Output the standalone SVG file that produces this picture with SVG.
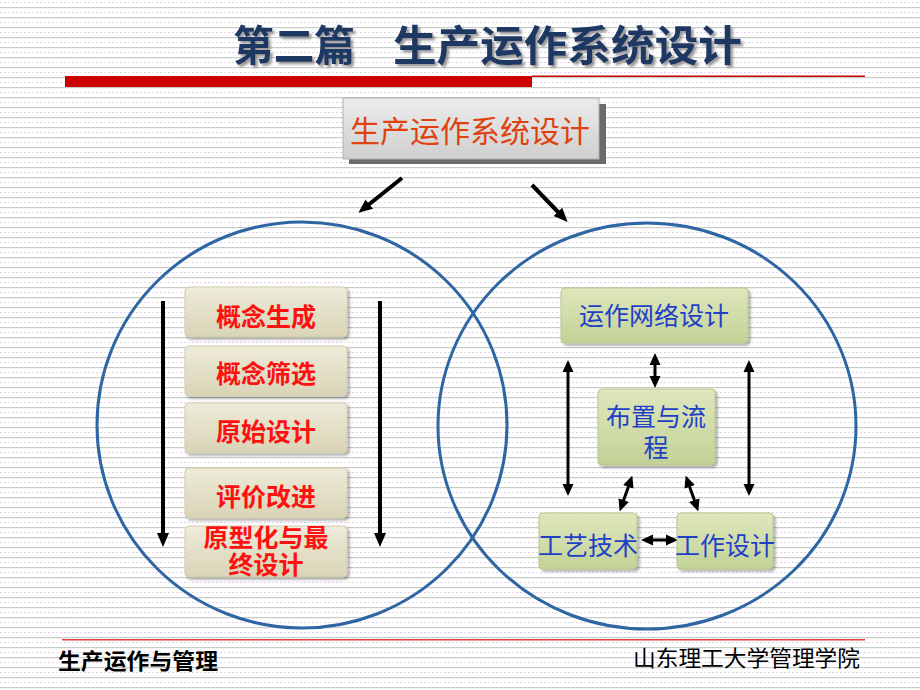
<svg xmlns="http://www.w3.org/2000/svg" width="920" height="690" viewBox="0 0 920 690">
<defs>
<pattern id="stripes" x="0" y="0" width="12" height="10" patternUnits="userSpaceOnUse">
<rect width="12" height="10" fill="#ffffff"/>
<rect x="0" y="7" width="12" height="1.2" fill="#c7ccc7"/>
<rect x="0" y="2" width="2" height="1" fill="#f2c9e4"/>
<rect x="4" y="2" width="2" height="1" fill="#c9d8f2"/>
<rect x="8" y="2" width="2" height="1" fill="#f4d6e8"/>
</pattern>
<linearGradient id="gBeige" x1="0" y1="0" x2="0" y2="1">
<stop offset="0" stop-color="#eeebd9"/>
<stop offset="1" stop-color="#d9d4b6"/>
</linearGradient>
<linearGradient id="gGreen" x1="0" y1="0" x2="0" y2="1">
<stop offset="0" stop-color="#dfe7bd"/>
<stop offset="1" stop-color="#c2d296"/>
</linearGradient>
<linearGradient id="gGray" x1="0" y1="0" x2="0" y2="1">
<stop offset="0" stop-color="#ececec"/>
<stop offset="1" stop-color="#cfcfcf"/>
</linearGradient>
<filter id="soft" x="-10%" y="-10%" width="125%" height="130%">
<feDropShadow dx="2" dy="2" stdDeviation="1.5" flood-color="#000" flood-opacity="0.35"/>
</filter>
<filter id="tshadow" x="-5%" y="-10%" width="110%" height="130%">
<feDropShadow dx="2.5" dy="2.5" stdDeviation="1" flood-color="#808080" flood-opacity="0.8"/>
</filter>
<marker id="ah" markerUnits="userSpaceOnUse" viewBox="0 0 14 14" markerWidth="14" markerHeight="14" refX="3" refY="7" orient="auto-start-reverse">
<path d="M0,1 L14,7 L0,13 z" fill="#000"/>
</marker>
<marker id="ah2" markerUnits="userSpaceOnUse" viewBox="0 0 12 12" markerWidth="12" markerHeight="12" refX="2" refY="6" orient="auto-start-reverse">
<path d="M0,0.5 L12,6 L0,11.5 z" fill="#000"/>
</marker>
<style>
.cjk{font-family:"Liberation Sans","Noto Sans CJK SC","Noto Sans CJK JP",sans-serif;}
.title{font-size:42px;font-weight:bold;fill:#1f3864;}
.red{font-size:25px;font-weight:bold;fill:#ff1010;text-anchor:middle;}
.blue{font-size:25px;fill:#1f3fc8;text-anchor:middle;}
.bbox{fill:url(#gBeige);stroke:#d2cdb0;stroke-width:1;}
.gbox{fill:url(#gGreen);stroke:#b8c78c;stroke-width:1;}
.circ{fill:none;stroke:#2e65a3;stroke-width:3;}
.arr{stroke:#000;stroke-width:4;fill:none;}
.darr{stroke:#000;stroke-width:3;fill:none;}
</style>
</defs>
<rect width="920" height="690" fill="url(#stripes)"/>

<g id="header">
<g filter="url(#tshadow)">
<text class="cjk title" x="233" y="61" textLength="122" lengthAdjust="spacingAndGlyphs">第二篇</text>
<text class="cjk title" x="393" y="61" textLength="349" lengthAdjust="spacingAndGlyphs">生产运作系统设计</text>
</g>
<rect x="65" y="76" width="467" height="11" fill="#cc0000"/>
<rect x="532" y="75.5" width="333" height="1.5" fill="#cc0000"/>
</g>

<g id="top-box">
<rect x="349" y="104" width="257" height="60" fill="#6b6b6b"/>
<rect x="343" y="98" width="256" height="61" fill="url(#gGray)" stroke="#b0b0b0" stroke-width="1"/>
<text class="cjk" x="470" y="142" font-size="30" fill="#e0420f" text-anchor="middle">生产运作系统设计</text>
</g>

<g id="circles">
<ellipse class="circ" cx="302" cy="425" rx="205" ry="203"/>
<ellipse class="circ" cx="647" cy="426" rx="209" ry="203"/>
</g>

<g id="connectors">
<line class="arr" x1="402" y1="178" x2="367" y2="206" marker-end="url(#ah)"/>
<line class="arr" x1="532" y1="185" x2="560" y2="214" marker-end="url(#ah)"/>
<line class="arr" x1="163" y1="301" x2="163" y2="536" marker-end="url(#ah)"/>
<line class="arr" x1="380" y1="301" x2="380" y2="536" marker-end="url(#ah)"/>
<line class="darr" x1="655" y1="363" x2="655" y2="378" marker-start="url(#ah2)" marker-end="url(#ah2)"/>
<line class="darr" x1="568" y1="370" x2="568" y2="486" marker-start="url(#ah2)" marker-end="url(#ah2)"/>
<line class="darr" x1="749" y1="370" x2="749" y2="486" marker-start="url(#ah2)" marker-end="url(#ah2)"/>
<line class="darr" x1="629" y1="485" x2="623" y2="502" marker-start="url(#ah2)" marker-end="url(#ah2)"/>
<line class="darr" x1="689" y1="485" x2="695" y2="502" marker-start="url(#ah2)" marker-end="url(#ah2)"/>
<line class="darr" x1="651" y1="540" x2="668" y2="540" marker-start="url(#ah2)" marker-end="url(#ah2)"/>
</g>

<g id="n-gainian-shengcheng">
<rect class="bbox" x="185" y="287" width="162" height="50" rx="4" filter="url(#soft)"/>
<text class="cjk red" x="266" y="326">概念生成</text>
</g>
<g id="n-gainian-shaixuan">
<rect class="bbox" x="185" y="346" width="162" height="50" rx="4" filter="url(#soft)"/>
<text class="cjk red" x="266" y="383">概念筛选</text>
</g>
<g id="n-yuanshi-sheji">
<rect class="bbox" x="185" y="403" width="162" height="50" rx="4" filter="url(#soft)"/>
<text class="cjk red" x="266" y="441">原始设计</text>
</g>
<g id="n-pingjia-gaijin">
<rect class="bbox" x="185" y="468" width="162" height="50" rx="4" filter="url(#soft)"/>
<text class="cjk red" x="266" y="506">评价改进</text>
</g>
<g id="n-yuanxinghua">
<rect class="bbox" x="185" y="526" width="162" height="51" rx="4" filter="url(#soft)"/>
<text class="cjk red" x="266" y="547" font-size="22"><tspan x="266" y="547">原型化与最</tspan><tspan x="266" y="574">终设计</tspan></text>
</g>

<g id="n-yunzuo-wangluo">
<rect class="gbox" x="561" y="288" width="187" height="55" rx="4" filter="url(#soft)"/>
<text class="cjk blue" x="654" y="325">运作网络设计</text>
</g>
<g id="n-buzhi-liucheng">
<rect class="gbox" x="598" y="389" width="117" height="76" rx="4" filter="url(#soft)"/>
<text class="cjk blue" x="656" y="426"><tspan x="656" y="426">布置与流</tspan><tspan x="656" y="457">程</tspan></text>
</g>
<g id="n-gongyi-jishu">
<rect class="gbox" x="539" y="513" width="98" height="56" rx="4" filter="url(#soft)"/>
<text class="cjk blue" x="588" y="555">工艺技术</text>
</g>
<g id="n-gongzuo-sheji">
<rect class="gbox" x="677" y="513" width="96" height="56" rx="4" filter="url(#soft)"/>
<text class="cjk blue" x="725" y="555">工作设计</text>
</g>

<g id="footer">
<rect x="62" y="639" width="803" height="1.5" fill="#e04040"/>
<text class="cjk" x="58" y="669" font-size="22" font-weight="bold" fill="#000" textLength="160" lengthAdjust="spacingAndGlyphs">生产运作与管理</text>
<text class="cjk" x="633" y="666" font-size="22" fill="#000" textLength="227" lengthAdjust="spacingAndGlyphs">山东理工大学管理学院</text>
</g>
</svg>
